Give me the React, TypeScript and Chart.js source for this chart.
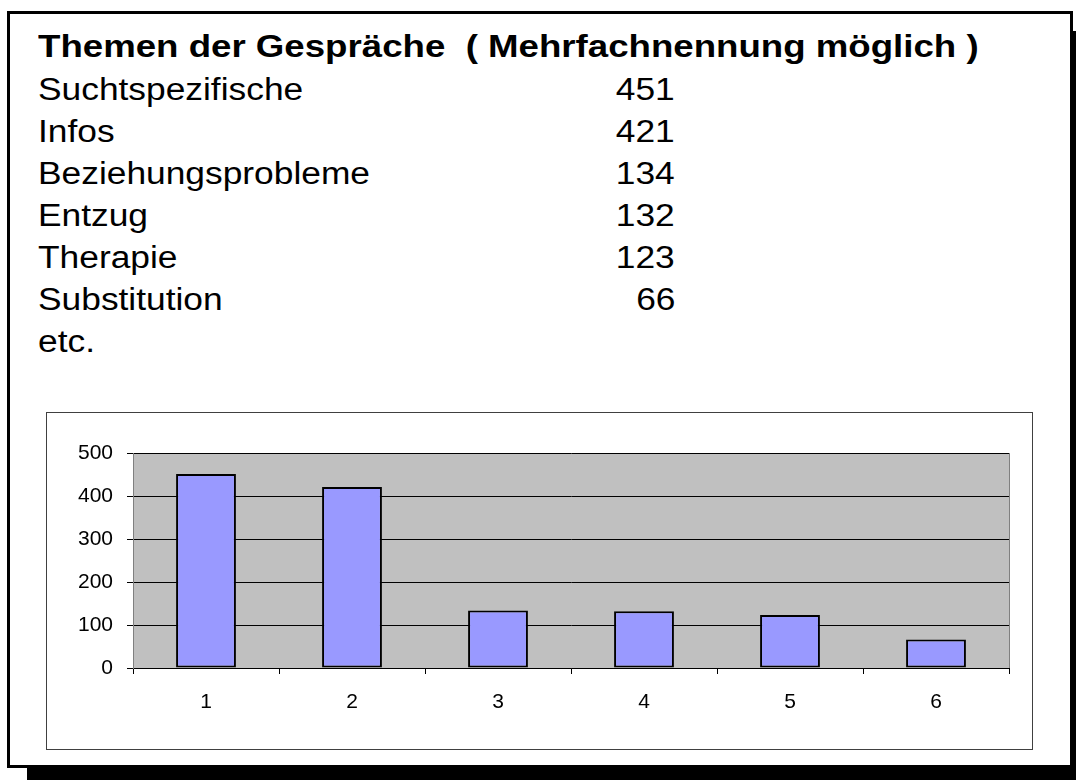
import React, { useEffect, useRef } from "react";
import { Chart, registerables } from "chart.js";

Chart.register(...registerables);

const titleText = "Themen der Gespräche  ( Mehrfachnennung möglich )";
const topics = ["Suchtspezifische", "Infos", "Beziehungsprobleme", "Entzug", "Therapie", "Substitution"];
const counts = [451, 421, 134, 132, 123, 66];
const categories = ["1", "2", "3", "4", "5", "6"];
const yTicks = [0, 100, 200, 300, 400, 500];

const FONT = '"Liberation Sans", Arial, Helvetica, sans-serif';

const plotBg = {
  id: "plotBg",
  beforeDraw(chart: any) {
    const { ctx, chartArea } = chart;
    ctx.save();
    ctx.fillStyle = "#C0C0C0";
    ctx.fillRect(chartArea.left, chartArea.top, chartArea.right - chartArea.left, chartArea.bottom - chartArea.top);
    ctx.restore();
  },
  afterDatasetsDraw(chart: any) {
    const { ctx, chartArea } = chart;
    ctx.save();
    ctx.strokeStyle = "#808080";
    ctx.lineWidth = 1;
    ctx.beginPath();
    ctx.moveTo(chartArea.right + 0.5, chartArea.top);
    ctx.lineTo(chartArea.right + 0.5, chartArea.bottom);
    ctx.stroke();
    ctx.restore();
  },
};

function BarChart() {
  const ref = useRef<HTMLCanvasElement>(null);
  useEffect(() => {
    const chart = new Chart(ref.current!, {
      type: "bar",
      data: {
        labels: categories,
        datasets: [
          {
            data: counts,
            backgroundColor: "#9999FF",
            borderColor: "#000000",
            borderWidth: 2,
            borderSkipped: false,
            barPercentage: 0.41,
            categoryPercentage: 1,
          },
        ],
      },
      options: {
        animation: false,
        responsive: false,
        maintainAspectRatio: false,
        layout: { padding: { left: 0, top: 40, right: 23, bottom: 0 } },
        plugins: { legend: { display: false }, tooltip: { enabled: false } },
        scales: {
          x: {
            offset: true,
            grid: {
              offset: true,
              drawOnChartArea: false,
              drawTicks: true,
              tickLength: 6,
              color: "#000000",
              lineWidth: 1,
            },
            border: { display: true, color: "#000000", width: 1 },
            ticks: { color: "#000000", font: { family: FONT, size: 21 }, padding: 16, maxRotation: 0 },
            afterFit: (s: any) => {
              s.height = 81;
            },
          },
          y: {
            min: 0,
            max: 500,
            afterBuildTicks: (s: any) => {
              s.ticks = yTicks.map((v) => ({ value: v }));
            },
            grid: { color: "#000000", lineWidth: 1, tickLength: 6, drawTicks: true },
            border: { display: true, color: "#808080", width: 1 },
            ticks: { color: "#000000", font: { family: FONT, size: 21 }, padding: 14 },
            afterFit: (s: any) => {
              s.width = 86;
            },
          },
        },
      },
      plugins: [plotBg],
    });
    return () => chart.destroy();
  }, []);
  return <canvas ref={ref} width={985} height={336} style={{ display: "block" }} />;
}

export default function App() {
  const rowBase = [100, 142, 184, 226, 268, 310];
  const size = 31;
  const off = 26;
  const bodyStretch = "scaleX(1.14)";
  return (
    <div style={{ position: "absolute", left: 0, top: 0, width: 1076, height: 780, background: "#fff", overflow: "hidden", fontFamily: FONT }}>
      <div
        style={{
          position: "absolute",
          left: 7,
          top: 11,
          width: 1066,
          height: 757,
          boxSizing: "border-box",
          border: "3px solid #000",
          background: "#fff",
          boxShadow: "20px 20px 0 0 #000",
        }}
      />
      <div
        style={{
          position: "absolute",
          left: 38,
          top: 57 - off,
          fontSize: size,
          lineHeight: 1,
          fontWeight: "bold",
          whiteSpace: "pre",
          color: "#000",
          transform: "scaleX(1.182)",
          transformOrigin: "left center",
        }}
      >
        {titleText}
      </div>
      {topics.map((t, i) => (
        <React.Fragment key={t}>
          <div
            style={{
              position: "absolute",
              left: 38,
              top: rowBase[i] - off,
              fontSize: size,
              lineHeight: 1,
              whiteSpace: "pre",
              color: "#000",
              transform: bodyStretch,
              transformOrigin: "left center",
            }}
          >
            {t}
          </div>
          <div
            style={{
              position: "absolute",
              right: 1076 - 675,
              top: rowBase[i] - off,
              fontSize: size,
              lineHeight: 1,
              whiteSpace: "pre",
              color: "#000",
              textAlign: "right",
              transform: bodyStretch,
              transformOrigin: "right center",
            }}
          >
            {String(counts[i])}
          </div>
        </React.Fragment>
      ))}
      <div
        style={{
          position: "absolute",
          left: 38,
          top: 352 - off,
          fontSize: size,
          lineHeight: 1,
          whiteSpace: "pre",
          color: "#000",
          transform: bodyStretch,
          transformOrigin: "left center",
        }}
      >
        etc.
      </div>
      <div
        style={{
          position: "absolute",
          left: 46,
          top: 412,
          width: 987,
          height: 338,
          boxSizing: "border-box",
          border: "1px solid #404040",
          background: "#fff",
        }}
      >
        <BarChart />
      </div>
    </div>
  );
}
